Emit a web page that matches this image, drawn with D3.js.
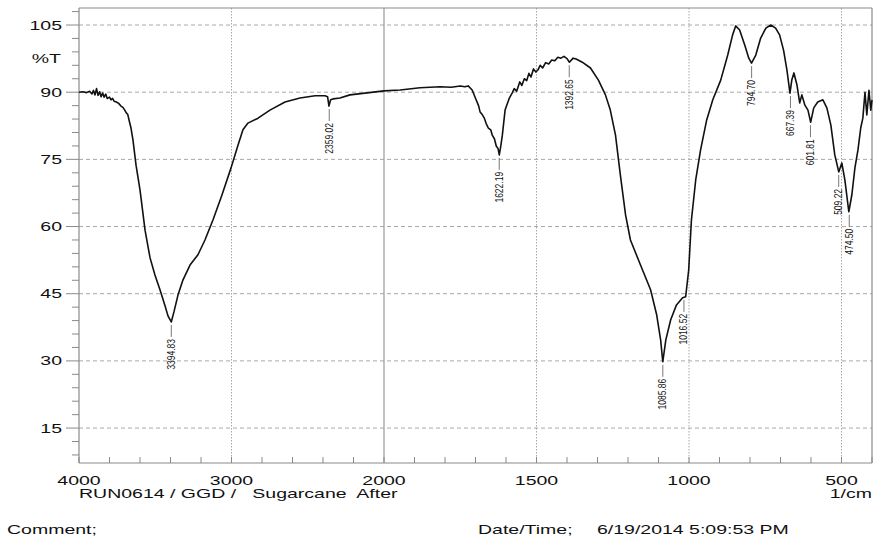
<!DOCTYPE html>
<html><head><meta charset="utf-8">
<script src="https://cdn.jsdelivr.net/npm/d3@7"></script>
<style>
html,body{margin:0;padding:0;background:#fff;}
svg{display:block;}
text{font-family:"Liberation Sans",Arial,sans-serif;fill:#111;}
</style></head>
<body><svg id="c" width="876" height="539"></svg>
<script>
// ---- data ----
const wavenumber = [4000,3975,3950,3930,3915,3905,3895,3885,3875,3865,3855,3845,3835,3825,3815,3800,3790,3780,3770,3755,3740,3725,3712,3700,3690,3680,3670,3659,3646,3626,3600,3567,3534,3502,3469,3436,3416,3395,3377,3351,3318,3272,3220,3174,3121,3062,3003,2957,2925,2892,2826,2748,2649,2551,2452,2387,2370,2361,2350,2334,2289,2223,2125,2000,1947,1882,1816,1780,1750,1735,1724,1711,1705,1698,1690,1685,1678,1671,1665,1658,1650,1645,1638,1632,1626,1622,1617,1612,1603,1589,1580,1573,1565,1555,1548,1540,1532,1525,1518,1510,1502,1495,1488,1480,1470,1460,1450,1440,1430,1420,1410,1400,1392,1380,1370,1350,1323,1297,1274,1258,1241,1225,1208,1192,1159,1126,1106,1093,1086,1076,1060,1041,1021,1011,1001,992,978,962,942,922,896,873,857,847,834,817,804,795,781,765,748,732,716,703,690,679,669,663,656,646,637,630,620,610,601,591,578,561,548,535,522,509,499,489,476,466,456,446,437,430,423,417,410,404,400];
const transmittance = [90.0,90.1,89.9,90.2,89.6,90.4,89.4,90.8,89.3,90.1,89.0,89.8,88.9,89.6,88.6,88.9,88.3,88.6,88.0,87.8,87.5,86.9,86.6,86.0,85.4,85.0,83.5,82.0,79.3,73.7,68.2,59.2,53.0,49.2,45.9,42.3,40.0,38.7,41.0,44.7,48.1,51.4,53.7,57.0,61.5,67.1,73.1,78.2,81.6,83.1,84.2,86.0,87.8,88.7,89.2,89.2,89.0,86.9,88.3,88.5,88.7,89.4,89.8,90.3,90.5,91.0,91.2,91.1,91.4,91.2,91.4,90.5,89.5,88.3,87.0,85.6,85.0,84.2,83.0,82.0,81.6,80.4,79.6,78.0,77.4,76.0,78.0,80.4,86.0,88.7,89.8,90.8,90.2,92.3,91.5,93.0,92.6,94.2,93.4,95.2,94.5,95.0,96.0,95.4,96.6,96.3,97.2,97.0,97.8,97.6,98.0,97.5,96.7,97.6,97.4,96.7,95.4,92.7,89.4,86.0,80.4,71.5,62.6,57.0,51.4,45.9,40.3,34.7,29.8,34.7,39.2,42.5,44.1,44.3,50.3,61.5,70.4,77.1,83.8,88.3,92.7,98.3,102.8,104.8,103.9,100.5,97.6,96.5,98.3,102.1,104.3,105.0,104.3,102.8,99.4,95.0,89.8,92.7,94.3,91.6,87.6,89.4,87.1,86.0,83.3,86.5,87.8,88.3,86.5,82.7,76.0,72.2,74.2,70.4,63.3,67.1,73.1,77.1,82.0,84.2,90.0,84.9,90.4,86.0,88.3];
const peakWavenumbers = [3394.83,2359.02,1622.19,1392.65,1085.86,1016.52,794.70,667.39,601.81,509.22,474.50];
const peakT = [38.7,86.9,76.0,96.7,29.8,44.3,96.5,89.8,83.3,72.2,63.3];
const peakLabels = ["3394.83","2359.02","1622.19","1392.65","1085.86","1016.52","794.70","667.39","601.81","509.22","474.50"];
const yTicks = [15,30,45,60,75,90,105];
const xTicks = [4000,3000,2000,1500,1000,500];
const xTitle = "RUN0614 / GGD /   Sugarcane  After";
const xUnit = "1/cm";
const yTitle = "%T";
const commentText = "Comment;";
const dateLabel = "Date/Time;";
const dateValue = "6/19/2014 5:09:53 PM";

// ---- scales ----
const L=79, R=872, T=8, B=463;
const x = d3.scaleLinear().domain([4000,2000,400]).range([L,384,R]);
const y = d3.scaleLinear().domain([7.2,108.8]).range([B,T]);
const svg = d3.select("#c");

function stxt(px,py,str,anchor,size){
  return svg.append("text")
    .attr("transform",`translate(${px},${py}) scale(1.5,1)`)
    .attr("text-anchor",anchor||"start")
    .style("font-size",(size||13)+"px")
    .style("white-space","pre")
    .text(str);
}

// grid
svg.append("g").selectAll("line").data(yTicks).join("line")
  .attr("x1",L).attr("x2",R).attr("y1",d=>y(d)).attr("y2",d=>y(d))
  .attr("stroke","#a8a8a8").attr("stroke-width",1).attr("stroke-dasharray","4,3");
svg.append("g").selectAll("line").data(xTicks.filter(d=>d!==4000&&d!==2000)).join("line")
  .attr("x1",d=>x(d)).attr("x2",d=>x(d)).attr("y1",T).attr("y2",B)
  .attr("stroke","#a8a8a8").attr("stroke-width",1).attr("stroke-dasharray","1.5,1.5");
svg.append("line").attr("x1",x(2000)).attr("x2",x(2000)).attr("y1",T).attr("y2",B)
  .attr("stroke","#9a9a9a").attr("stroke-width",1.2);

// frame
const fr = svg.append("g").attr("stroke","#8a8a8a").attr("stroke-width",1.2);
fr.append("line").attr("x1",L).attr("x2",R).attr("y1",T).attr("y2",T);
fr.append("line").attr("x1",R).attr("x2",R).attr("y1",T).attr("y2",B);
fr.append("line").attr("x1",L).attr("x2",L).attr("y1",T).attr("y2",B);
fr.append("line").attr("x1",L).attr("x2",R).attr("y1",B).attr("y2",B);

// y ticks
const yMinor = d3.range(9,109,3);
svg.append("g").selectAll("line").data(yMinor).join("line")
  .attr("x1",d=>d%15===0?L-13:L-7).attr("x2",L)
  .attr("y1",d=>y(d)).attr("y2",d=>y(d))
  .attr("stroke","#8a8a8a").attr("stroke-width",1);
yTicks.forEach(t=>stxt(62,y(t)+4.6,String(t),"end"));
stxt(61,y(105)+37.5,yTitle,"end");

// x ticks
const xMinor = d3.range(4000,2000,-200).concat(d3.range(2000,399,-100));
svg.append("g").selectAll("line").data(xMinor).join("line")
  .attr("x1",d=>x(d)).attr("x2",d=>x(d)).attr("y1",B-6).attr("y2",B)
  .attr("stroke","#8a8a8a").attr("stroke-width",1);
xTicks.forEach(t=>stxt(x(t),485,String(t),"middle"));
stxt(L,498,xTitle,"start");
stxt(R,498,xUnit,"end");
stxt(7,534,commentText,"start");
stxt(478,534,dateLabel,"start");
stxt(597,534,dateValue,"start");

// spectrum
const pts = wavenumber.map((w,i)=>[w,transmittance[i]]);
svg.append("path").datum(pts)
  .attr("d",d3.line().x(d=>x(d[0])).y(d=>y(d[1])))
  .attr("fill","none").attr("stroke","#111").attr("stroke-width",1.6).attr("stroke-linejoin","round");

// peak labels
peakWavenumbers.forEach((w,i)=>{
  const px=x(w), py=y(peakT[i]);
  svg.append("line").attr("x1",px).attr("x2",px).attr("y1",py+3).attr("y2",py+15)
    .attr("stroke","#555").attr("stroke-width",0.8);
  svg.append("text")
    .attr("transform",`translate(${px},${py+17}) rotate(-90) scale(0.85,1)`)
    .attr("text-anchor","end").attr("dy","0.35em")
    .style("font-size","10px")
    .text(peakLabels[i]);
});
</script></body></html>
